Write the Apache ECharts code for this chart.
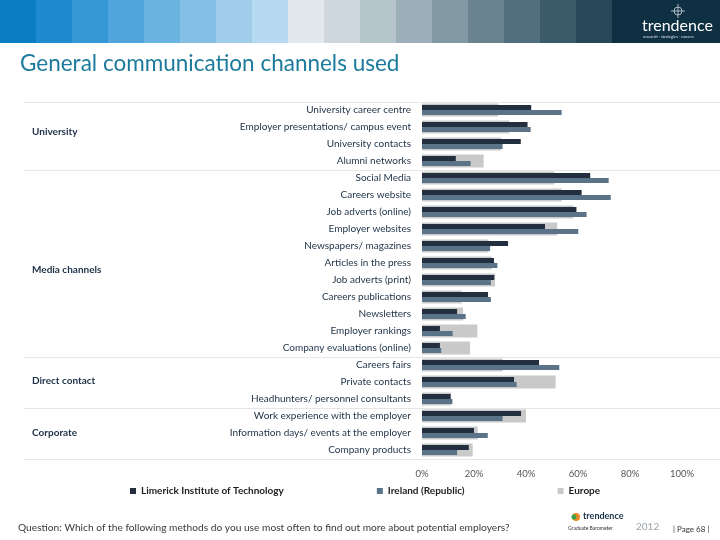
<!DOCTYPE html>
<html>
<head>
<meta charset="utf-8">
<script src="https://cdn.jsdelivr.net/npm/echarts@6/dist/echarts.min.js"></script>
<style>html,body{margin:0;padding:0;background:#fff}#c{width:720px;height:540px}</style>
</head>
<body>
<div id="c"></div>
<script>
const categories = [
  'University career centre','Employer presentations/ campus event','University contacts','Alumni networks',
  'Social Media','Careers website','Job adverts (online)','Employer websites','Newspapers/ magazines',
  'Articles in the press','Job adverts (print)','Careers publications','Newsletters','Employer rankings',
  'Company evaluations (online)','Careers fairs','Private contacts','Headhunters/ personnel consultants',
  'Work experience with the employer','Information days/ events at the employer','Company products'
];
const limerick = [42,40.6,38,13,64.7,61.4,59.4,47.3,33.1,27.7,27.8,25.4,13.5,6.9,6.9,45,35.4,11,38.1,20,18];
const ireland  = [53.7,41.8,31,18.7,71.8,72.6,63.3,60.1,26.2,29,26.5,26.5,16.8,11.8,7.4,52.8,36.4,11.7,31,25.3,13.5];
const europe   = [29.3,33.5,30.4,23.7,50.9,53.7,58.2,52,25.5,26.8,28.1,15.3,15.8,21.3,18.5,31,51.4,11.2,40,21.4,19.5];
const seriesNames = ['Limerick Institute of Technology','Ireland (Republic)','Europe'];
const groupNames = ['University','Media channels','Direct contact','Corporate'];
const groupSizes = [4,11,3,3];
const xTicks = [0,20,40,60,80,100];

const headerColors = ['#0b7dc5','#1f8ad0','#3597d6','#50a6dc','#69b3e1','#84c0e6','#9ecce9','#b6daf0',
  '#e3e8ec','#cdd7dd','#b6c4cb','#9cb0b9','#8299a4','#68838f','#516f7d','#3b5a6a','#264858'];

const chart = echarts.init(document.getElementById('c'));
const FONT = 'Lato';

const graphics = [];
headerColors.forEach((c,i)=>{
  graphics.push({type:'rect', shape:{x:i*36, y:0, width:36, height:43}, style:{fill:c}, silent:true});
});
graphics.push({type:'rect', shape:{x:612, y:0, width:108, height:43}, style:{fill:'#0f3043'}, silent:true});
graphics.push({type:'circle', shape:{cx:678, cy:11, r:4}, style:{fill:'none', stroke:'#cfd8dd', lineWidth:0.8}, silent:true});
graphics.push({type:'line', shape:{x1:678, y1:4, x2:678, y2:18}, style:{stroke:'#cfd8dd', lineWidth:0.8}, silent:true});
graphics.push({type:'line', shape:{x1:671, y1:11, x2:685, y2:11}, style:{stroke:'#cfd8dd', lineWidth:0.8}, silent:true});
graphics.push({type:'text', left:642, top:18, style:{text:'trendence', fill:'#ffffff', font:'16px '+FONT}, silent:true});
graphics.push({type:'text', left:643, top:35, style:{text:'research · strategies · careers', fill:'#dfe6ea', font:'4px '+FONT}, silent:true});
graphics.push({type:'text', left:20, top:52, style:{text:'General communication channels used', fill:'#1c7b9c', font:'22.5px '+FONT}, silent:true});
graphics.push({type:'text', left:18, top:523, style:{text:'Question: Which of the following methods do you use most often to find out more about potential employers?', fill:'#3a3a3a', font:'10.2px '+FONT}, silent:true});
// footer logo
graphics.push({type:'circle', shape:{cx:576, cy:517, r:4}, style:{fill:'#f08a24'}, silent:true});
graphics.push({type:'circle', shape:{cx:574, cy:517, r:2.5}, style:{fill:'#3aa04a'}, silent:true});
graphics.push({type:'text', left:583, top:512, style:{text:'trendence', fill:'#1d3146', font:'bold 9px '+FONT}, silent:true});
graphics.push({type:'text', left:568, top:526, style:{text:'Graduate Barometer', fill:'#333', font:'5px '+FONT}, silent:true});
graphics.push({type:'text', left:636, top:522, style:{text:'2012', fill:'#9aa3aa', font:'10px '+FONT}, silent:true});
graphics.push({type:'text', left:673, top:525, style:{text:'| Page 68 |', fill:'#333', font:'8px '+FONT}, silent:true});
const groupLabelY = [133,271,382,434];
groupNames.forEach((g,i)=>{
  graphics.push({type:'text', left:32, top:groupLabelY[i]-6, style:{text:g, fill:'#1d3146', font:'bold 10px '+FONT}, silent:true});
});

const option = {
  animation:false,
  textStyle:{fontFamily:FONT},
  grid:{left:422, right:38, top:101.5, height:357, containLabel:false},
  legend:{
    data:seriesNames, left:125, top:481, itemGap:93, icon:'rect', itemWidth:6, itemHeight:6,
    textStyle:{fontFamily:FONT, fontSize:10, fontWeight:'bold', color:'#222'}
  },
  xAxis:{
    type:'value', min:xTicks[0], max:xTicks[xTicks.length-1], interval:xTicks[1]-xTicks[0],
    axisLine:{show:false}, axisTick:{show:false}, splitLine:{show:false},
    axisLabel:{formatter:'{value}%', color:'#555', fontSize:9.5, margin:10, fontFamily:FONT}
  },
  yAxis:[
    {type:'category', data:categories, inverse:true,
     axisLine:{show:false}, axisTick:{show:false}, splitLine:{show:false},
     axisLabel:{color:'#1d3146', fontSize:10, margin:11, fontFamily:FONT}},
    {type:'category', data:categories, inverse:true, show:false}
  ],
  series:[
    {name:seriesNames[2], type:'bar', yAxisIndex:1, data:europe, barWidth:13, itemStyle:{color:'#c9c9c9'}, z:1},
    {name:seriesNames[0], type:'bar', yAxisIndex:0, data:limerick, barWidth:5, barGap:'0%', itemStyle:{color:'#232f3e'}, z:3},
    {name:seriesNames[1], type:'bar', yAxisIndex:0, data:ireland, barWidth:5, barGap:'0%', itemStyle:{color:'#5a7389'}, z:3}
  ],
  graphic:graphics
};
chart.setOption(option);

// separators derived from the category scale
const centers = categories.map(c => chart.convertToPixel({yAxisIndex:0}, c));
const band = centers[1]-centers[0];
const seps = [centers[0]-band/2];
let idx = 0;
groupSizes.forEach(s => { idx += s; seps.push(centers[idx-1]+band/2); });
const lines = seps.map(y => ({type:'line', shape:{x1:24, y1:Math.round(y)+0.5, x2:720, y2:Math.round(y)+0.5}, style:{stroke:'#e6e6e6', lineWidth:1}, silent:true, z:0}));
chart.setOption({graphic: graphics.concat(lines)});
</script>
</body>
</html>
